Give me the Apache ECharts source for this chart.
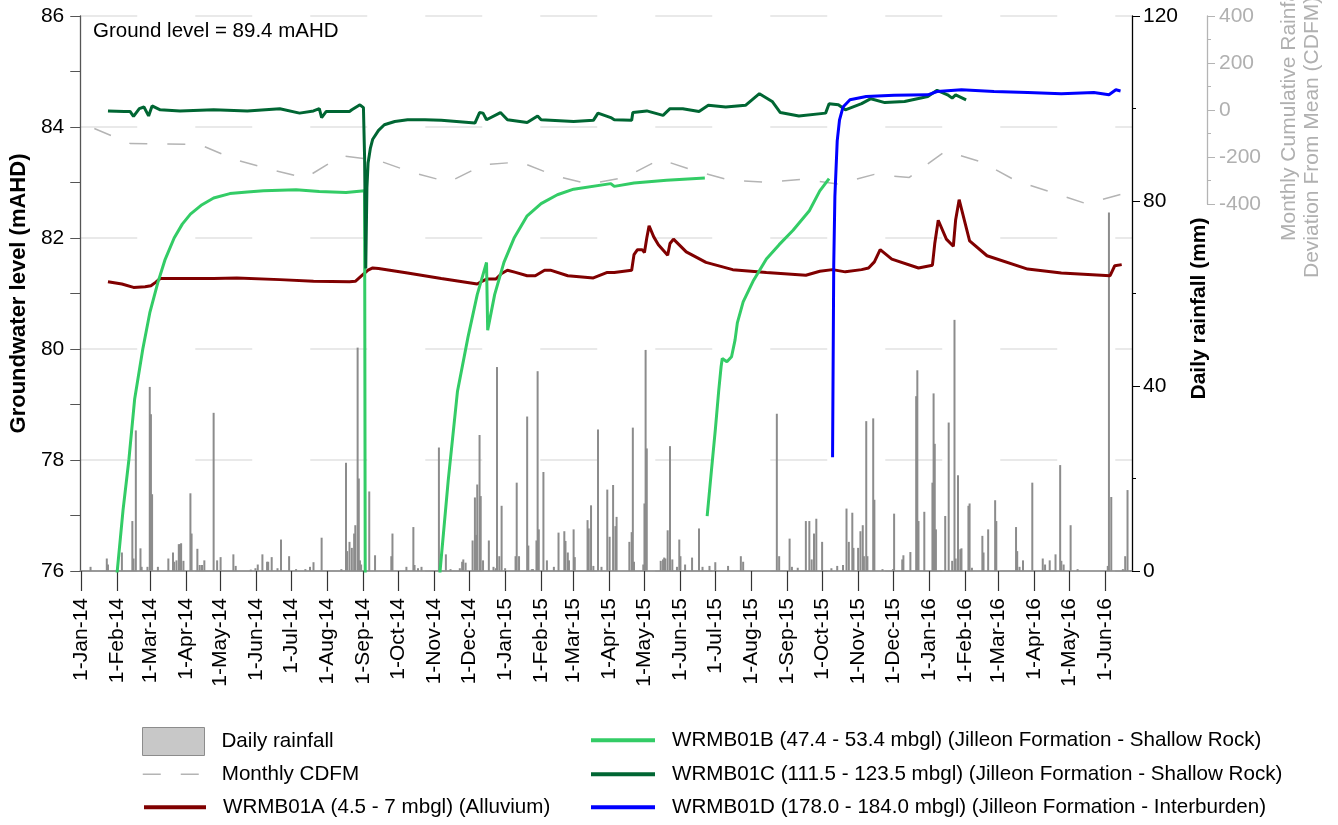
<!DOCTYPE html>
<html><head><meta charset="utf-8">
<script src="https://cdn.jsdelivr.net/npm/echarts@6/dist/echarts.min.js"></script>
<style>html,body{margin:0;padding:0;background:#fff}#c{width:1338px;height:825px}</style>
</head><body><div id="c"></div>
<script>
// ---------- DATA ----------
const dailyRainfall = [
['2014-01-09',0.9],['2014-01-23',2.7],['2014-01-24',1.4],['2014-02-05',4.0],['2014-02-14',10.8],['2014-02-15',2.7],['2014-02-17',30.4],['2014-02-21',4.9],['2014-02-22',0.9],['2014-02-27',0.9],
['2014-03-01',39.8],['2014-03-02',33.9],['2014-03-03',16.6],['2014-03-08',0.9],['2014-03-17',2.7],['2014-03-21',4.0],['2014-03-22',2.0],['2014-03-24',2.3],['2014-03-26',5.8],['2014-03-27',5.8],['2014-03-28',6.0],['2014-03-30',2.2],
['2014-04-05',16.8],['2014-04-06',8.1],['2014-04-11',4.8],['2014-04-13',1.3],['2014-04-15',1.3],['2014-04-17',2.3],['2014-04-25',34.2],['2014-04-28',2.3],['2014-05-01',3.0],['2014-05-12',3.6],['2014-05-14',1.1],['2014-05-27',0.3],['2014-05-31',0.6],
['2014-06-02',1.4],['2014-06-06',3.6],['2014-06-10',2.0],['2014-06-11',2.0],['2014-06-14',3.0],['2014-06-19',0.6],['2014-06-22',6.8],['2014-06-29',3.2],['2014-07-05',0.4],['2014-07-13',0.4],['2014-07-17',0.9],['2014-07-20',1.9],['2014-07-27',7.2],
['2014-08-13',0.4],['2014-08-17',23.4],['2014-08-18',4.3],['2014-08-20',6.3],['2014-08-22',5.0],['2014-08-24',8.1],['2014-08-25',9.9],['2014-08-27',48.3],['2014-08-28',20.0],['2014-08-29',2.3],['2014-08-30',1.4],
['2014-09-06',17.2],['2014-09-11',3.4],['2014-09-25',3.2],['2014-09-26',8.1],['2014-10-08',0.9],['2014-10-14',9.5],['2014-10-15',1.3],['2014-10-18',0.6],['2014-10-21',0.9],
['2014-11-05',26.7],['2014-11-11',3.6],['2014-11-15',0.4],['2014-11-23',0.6],['2014-11-25',2.0],['2014-11-26',2.5],['2014-11-28',1.8],
['2014-12-04',6.6],['2014-12-06',15.9],['2014-12-07',7.8],['2014-12-08',18.7],['2014-12-10',29.4],['2014-12-11',16.2],['2014-12-13',2.3],['2014-12-18',6.6],['2014-12-22',0.9],['2014-12-24',0.6],['2014-12-25',44.1],['2014-12-27',3.2],['2014-12-29',14.1],
['2015-01-01',0.6],['2015-01-10',3.2],['2015-01-11',19.1],['2015-01-13',3.2],['2015-01-20',33.4],['2015-01-21',5.5],['2015-01-24',0.4],['2015-01-25',0.4],['2015-01-28',6.6],['2015-01-29',43.2],['2015-01-30',9.0],
['2015-02-03',21.4],['2015-02-06',2.3],['2015-02-12',0.9],['2015-02-16',8.3],['2015-02-21',8.6],['2015-02-22',6.5],['2015-02-24',4.0],['2015-02-25',2.3],
['2015-03-01',9.0],['2015-03-02',3.0],['2015-03-13',11.0],['2015-03-14',9.2],['2015-03-16',14.2],['2015-03-18',1.1],['2015-03-22',30.6],['2015-03-25',0.9],['2015-03-30',17.6],
['2015-04-01',7.4],['2015-04-04',18.6],['2015-04-06',9.7],['2015-04-07',11.7],['2015-04-18',6.3],['2015-04-20',8.4],['2015-04-21',31.0],['2015-04-22',2.0],['2015-04-30',1.4],
['2015-05-01',14.6],['2015-05-02',47.8],['2015-05-03',26.5],['2015-05-15',2.2],['2015-05-17',2.5],['2015-05-18',2.9],['2015-05-19',2.7],['2015-05-21',8.8],['2015-05-23',27.0],['2015-05-25',2.5],['2015-05-29',0.9],['2015-05-31',6.8],
['2015-06-01',3.2],['2015-06-05',1.4],['2015-06-11',2.9],['2015-06-17',9.2],['2015-06-20',0.9],['2015-06-26',1.1],['2015-07-01',1.9],['2015-07-12',1.1],['2015-07-23',3.2],['2015-07-25',2.0],
['2015-08-23',34.0],['2015-08-25',3.2],['2015-09-03',7.0],['2015-09-05',0.9],['2015-09-10',0.7],['2015-09-17',10.8],['2015-09-20',10.8],['2015-09-22',2.5],['2015-09-24',8.1],['2015-09-26',11.3],
['2015-10-01',6.3],['2015-10-09',0.6],['2015-10-14',1.1],['2015-10-19',1.3],['2015-10-22',13.5],['2015-10-24',6.3],['2015-10-27',12.6],['2015-10-28',5.0],
['2015-11-01',5.0],['2015-11-03',8.6],['2015-11-05',9.9],['2015-11-06',3.2],['2015-11-08',32.4],['2015-11-09',3.2],['2015-11-14',33.0],['2015-11-15',15.4],['2015-11-22',0.4],
['2015-12-01',0.4],['2015-12-02',12.4],['2015-12-09',2.5],['2015-12-10',3.4],['2015-12-16',4.1],['2015-12-21',37.8],['2015-12-22',43.4],['2015-12-23',10.8],['2015-12-28',12.8],
['2016-01-04',19.1],['2016-01-05',38.4],['2016-01-06',27.5],['2016-01-07',9.0],['2016-01-15',11.9],['2016-01-18',32.1],['2016-01-21',2.2],['2016-01-23',54.3],['2016-01-24',2.7],['2016-01-26',20.7],['2016-01-28',4.7],['2016-01-29',4.9],
['2016-02-04',14.1],['2016-02-05',14.6],['2016-02-07',0.7],['2016-02-16',7.6],['2016-02-17',4.0],['2016-02-21',9.0],['2016-02-27',15.3],['2016-02-28',10.8],
['2016-03-16',9.5],['2016-03-17',4.3],['2016-03-19',0.9],['2016-03-22',2.3],['2016-03-30',19.1],['2016-04-08',2.7],['2016-04-10',1.4],['2016-04-14',2.3],['2016-04-19',3.6],['2016-04-23',22.9],['2016-04-24',2.2],['2016-04-26',1.4],
['2016-05-02',9.9],['2016-05-08',0.4],['2016-06-03',1.1],['2016-06-04',77.5],['2016-06-06',16.0],['2016-06-16',0.4],['2016-06-18',3.2],['2016-06-20',17.5]
];

const monthlyCDFM = [
['2014-01-15',-79],['2014-02-15',-143],['2014-03-15',-145],['2014-04-15',-146],['2014-05-15',-210],['2014-06-15',-253],['2014-07-15',-289],['2014-08-15',-195],['2014-09-15',-214],['2014-10-15',-266],['2014-11-15',-307],['2014-12-15',-233],
['2015-01-15',-221],['2015-02-15',-281],['2015-03-15',-315],['2015-04-15',-287],['2015-05-15',-210],['2015-06-15',-260],['2015-07-15',-300],['2015-08-15',-307],['2015-09-15',-295],['2015-10-15',-315],['2015-11-15',-274],['2015-12-15',-287],
['2016-01-15',-175],['2016-02-15',-221],['2016-03-15',-300],['2016-04-15',-350],['2016-05-15',-399],['2016-06-15',-357]
];

const wrmb01A = [
['2014-01-24',81.21],['2014-02-05',81.17],['2014-02-15',81.11],['2014-02-25',81.12],['2014-03-02',81.14],['2014-03-06',81.2],['2014-03-10',81.27],['2014-04-01',81.27],['2014-04-25',81.27],['2014-05-15',81.28],['2014-06-21',81.25],['2014-07-20',81.22],['2014-08-20',81.21],['2014-08-25',81.22],['2014-08-31',81.33],['2014-09-05',81.42],['2014-09-09',81.46],['2014-09-14',81.45],['2014-10-09',81.37],['2014-11-07',81.27],['2014-12-08',81.17],['2014-12-12',81.22],['2014-12-16',81.26],['2014-12-24',81.26],['2014-12-29',81.36],
['2015-01-03',81.42],['2015-01-10',81.38],['2015-01-20',81.32],['2015-01-27',81.32],['2015-02-04',81.42],['2015-02-09',81.42],['2015-02-24',81.32],['2015-03-18',81.28],['2015-03-24',81.33],['2015-03-30',81.38],['2015-04-05',81.38],['2015-04-20',81.42],['2015-04-22',81.7],['2015-04-25',81.79],['2015-04-29',81.79],['2015-05-01',81.74],['2015-05-03',82.0],['2015-05-05',82.22],['2015-05-09',82.02],['2015-05-13',81.88],['2015-05-21',81.69],['2015-05-23',81.9],['2015-05-26',81.98],['2015-06-06',81.75],['2015-06-23',81.56],['2015-07-16',81.43],['2015-08-14',81.38],['2015-09-17',81.33],['2015-09-29',81.40],['2015-10-10',81.43],['2015-10-21',81.39],['2015-11-04',81.43],['2015-11-10',81.46],['2015-11-15',81.57],['2015-11-20',81.79],['2015-11-30',81.62],['2015-12-23',81.46],
['2016-01-04',81.51],['2016-01-06',81.9],['2016-01-09',82.32],['2016-01-16',81.98],['2016-01-22',81.85],['2016-01-24',82.33],['2016-01-27',82.69],['2016-02-05',81.95],['2016-02-20',81.68],['2016-03-26',81.44],['2016-04-24',81.37],['2016-06-05',81.32],['2016-06-09',81.50],['2016-06-15',81.52]
];

const wrmb01B = [
['2014-01-31',75.7],['2014-02-01',76.0],['2014-02-06',77.1],['2014-02-11',78.0],['2014-02-16',79.1],['2014-02-23',80.0],['2014-03-01',80.65],['2014-03-08',81.2],['2014-03-14',81.6],['2014-03-22',82.0],['2014-03-29',82.25],['2014-04-05',82.43],['2014-04-15',82.6],['2014-04-25',82.72],['2014-05-09',82.8],['2014-05-24',82.83],['2014-06-07',82.85],['2014-07-05',82.87],['2014-07-25',82.84],['2014-08-17',82.82],['2014-09-02',82.85],['2014-09-03',70],['2014-09-04','-'],
['2014-11-05',75.7],['2014-11-06',76.0],['2014-11-13',77.63],['2014-11-21',79.24],['2014-11-30',80.21],['2014-12-08',80.98],['2014-12-16',81.56],['2014-12-17',80.34],['2014-12-23',80.98],['2014-12-31',81.56],['2015-01-09',82.01],['2015-01-20',82.40],['2015-02-01',82.62],['2015-02-15',82.78],['2015-03-01',82.88],['2015-04-02',82.98],['2015-04-05',82.93],['2015-04-22',82.99],['2015-05-20',83.04],['2015-06-22',83.08],['2015-06-23','-'],
['2015-06-24',76.99],['2015-06-28',77.88],['2015-07-01',78.54],['2015-07-04',79.26],['2015-07-06',79.68],['2015-07-07',79.83],['2015-07-11',79.77],['2015-07-15',79.86],['2015-07-18',80.16],['2015-07-20',80.47],['2015-07-25',80.85],['2015-08-03',81.24],['2015-08-14',81.62],['2015-08-25',81.88],['2015-09-06',82.14],['2015-09-20',82.49],['2015-09-29',82.85],['2015-10-07',83.07]
];

const wrmb01C = [
['2014-01-24',84.29],['2014-02-07',84.28],['2014-02-12',84.28],['2014-02-15',84.19],['2014-02-20',84.33],['2014-02-24',84.36],['2014-02-28',84.2],['2014-03-03',84.38],['2014-03-10',84.31],['2014-03-27',84.29],['2014-04-25',84.31],['2014-05-24',84.29],['2014-06-21',84.33],['2014-07-08',84.25],['2014-07-20',84.29],['2014-07-25',84.33],['2014-07-27',84.17],['2014-07-31',84.28],['2014-08-20',84.28],['2014-08-22',84.31],['2014-08-29',84.40],['2014-09-01',84.35],['2014-09-02',83.45],['2014-09-03',81.45],['2014-09-04',82.9],['2014-09-05',83.35],['2014-09-07',83.62],['2014-09-09',83.78],['2014-09-14',83.94],['2014-09-19',84.04],['2014-09-28',84.10],['2014-10-09',84.13],['2014-10-24',84.13],['2014-11-07',84.12],['2014-12-06',84.07],['2014-12-10',84.26],['2014-12-13',84.25],['2014-12-16',84.13],['2014-12-28',84.26],
['2015-01-03',84.13],['2015-01-20',84.08],['2015-01-29',84.20],['2015-02-01',84.13],['2015-03-01',84.10],['2015-03-18',84.12],['2015-03-22',84.25],['2015-04-02',84.17],['2015-04-05',84.13],['2015-04-20',84.12],['2015-04-21',84.26],['2015-05-03',84.29],['2015-05-17',84.21],['2015-05-23',84.33],['2015-06-03',84.33],['2015-06-17',84.28],['2015-06-25',84.39],['2015-07-10',84.36],['2015-07-27',84.39],['2015-08-08',84.60],['2015-08-19',84.46],['2015-08-26',84.26],['2015-09-11',84.20],['2015-10-04',84.25],['2015-10-07',84.42],['2015-10-15',84.40],['2015-10-21',84.31],['2015-11-04',84.42],['2015-11-12',84.51],['2015-11-24',84.44],['2015-12-11',84.46],['2015-12-31',84.55],
['2016-01-08',84.66],['2016-01-17',84.58],['2016-01-21',84.52],['2016-01-24',84.58],['2016-02-02',84.49]
];

const wrmb01D = [
['2015-10-10',78.05],['2015-10-11',81.5],['2015-10-12',82.75],['2015-10-14',83.75],['2015-10-16',84.13],['2015-10-19',84.36],['2015-10-25',84.49],['2015-11-08',84.55],['2015-12-02',84.57],['2015-12-31',84.58],['2016-01-08',84.64],['2016-01-29',84.67],['2016-02-26',84.64],['2016-03-26',84.62],['2016-04-24',84.60],['2016-05-22',84.62],['2016-06-04',84.58],['2016-06-10',84.67],['2016-06-14',84.65]
];

const seriesNames = {
  rain: 'Daily rainfall',
  cdfm: 'Monthly CDFM',
  a: 'WRMB01A (4.5 - 7 mbgl) (Alluvium)',
  b: 'WRMB01B (47.4 - 53.4 mbgl) (Jilleon Formation - Shallow Rock)',
  c: 'WRMB01C (111.5 - 123.5 mbgl) (Jilleon Formation - Shallow Rock)',
  d: 'WRMB01D (178.0 - 184.0 mbgl) (Jilleon Formation - Interburden)'
};
const monthLabels = ['Jan','Feb','Mar','Apr','May','Jun','Jul','Aug','Sep','Oct','Nov','Dec'];

// ---------- CHART ----------
const FONT = '"Liberation Sans", Arial, sans-serif';
const DAY = 86400000;
const xMin = new Date(2014, 0, 1).getTime();
const xMax = new Date(2016, 5, 23).getTime();
function dateLabel(v) {
  const d = new Date(v);
  if (d.getDate() !== 1) return '';
  return '1-' + monthLabels[d.getMonth()] + '-' + String(d.getFullYear()).slice(2);
}
const chart = echarts.init(document.getElementById('c'), null, {renderer: 'canvas'});
const lineBase = {type: 'line', symbol: 'none', showSymbol: false, connectNulls: false, clip: true, xAxisIndex: 0, yAxisIndex: 0};
function legendRow(name, left, top, width, extra) {
  const item = Object.assign({name: name}, extra || {itemStyle: {opacity: 0}, lineStyle: {width: 4}});
  return {
    orient: 'horizontal', left: left, top: top, padding: 0, itemWidth: width, itemHeight: 28, selectedMode: false,
    textStyle: {fontSize: 20.6, fontFamily: FONT, color: '#000', padding: [0, 0, 0, 12]},
    data: [item]
  };
}
chart.setOption({
  animation: false,
  backgroundColor: '#fff',
  textStyle: {fontFamily: FONT},
  grid: [
    {left: 78, right: 206, top: 16, bottom: 254},
    {left: 78, right: 206, top: 16, height: 188}
  ],
  xAxis: [
    {
      type: 'time', gridIndex: 0, min: xMin, max: xMax,
      minInterval: 28 * DAY, maxInterval: 31 * DAY, splitNumber: 30,
      axisLine: {lineStyle: {color: '#7f7f7f', width: 1.5}},
      axisTick: {show: true, length: 20, lineStyle: {color: '#333', width: 1.2}},
      axisLabel: {rotate: 90, fontSize: 21, color: '#000', margin: 27, formatter: dateLabel, hideOverlap: false},
      splitLine: {show: false}
    },
    {type: 'time', gridIndex: 1, min: xMin, max: xMax, show: false}
  ],
  yAxis: [
    {
      type: 'value', gridIndex: 0, min: 76, max: 86, interval: 2, position: 'left',
      name: 'Groundwater level (mAHD)', nameLocation: 'middle', nameGap: 47,
      nameTextStyle: {fontSize: 22, fontWeight: 'bold', color: '#000', fontFamily: FONT},
      axisLine: {show: true, lineStyle: {color: '#555', width: 1.3}},
      axisTick: {show: true, length: 10, lineStyle: {color: '#555'}},
      minorTick: {show: true, splitNumber: 2, length: 10, lineStyle: {color: '#555'}},
      axisLabel: {fontSize: 21, color: '#000', margin: 16},
      splitLine: {show: true, lineStyle: {color: '#e2e2e2', width: 1.5, type: [57, 58]}}
    },
    {
      type: 'value', gridIndex: 0, min: 0, max: 120, interval: 40, position: 'right',
      name: 'Daily rainfall (mm)', nameLocation: 'middle', nameGap: 48,
      nameTextStyle: {fontSize: 21, fontWeight: 'bold', color: '#000', fontFamily: FONT, padding: [0, 30, 0, 0]},
      axisLine: {show: true, lineStyle: {color: '#000', width: 1.3}},
      axisTick: {show: true, length: 8, lineStyle: {color: '#000'}},
      minorTick: {show: true, splitNumber: 2, length: 4, lineStyle: {color: '#000'}},
      axisLabel: {fontSize: 21, color: '#000', margin: 11},
      splitLine: {show: false}
    },
    {
      type: 'value', gridIndex: 1, min: -400, max: 400, interval: 200, position: 'right', offset: 75,
      axisLine: {show: true, lineStyle: {color: '#b4b4b4', width: 1.3}},
      axisTick: {show: true, length: 8, lineStyle: {color: '#b4b4b4'}},
      minorTick: {show: true, splitNumber: 2, length: 4, lineStyle: {color: '#b4b4b4'}},
      axisLabel: {fontSize: 21, color: '#b0b0b0', margin: 12},
      splitLine: {show: false}
    }
  ],
  legend: [
    legendRow(seriesNames.rain, 142, 727, 62, {icon: 'rect', itemStyle: {color: '#c8c8c8', borderColor: '#8c8c8c', borderWidth: 1}}),
    legendRow(seriesNames.cdfm, 142, 763, 62, {itemStyle: {opacity: 0}, lineStyle: {width: 1.5}}),
    legendRow(seriesNames.a, 142, 796, 62),
    legendRow(seriesNames.b, 589, 729, 64),
    legendRow(seriesNames.c, 589, 763, 64),
    legendRow(seriesNames.d, 589, 796, 64)
  ],
  graphic: [
    {type: 'text', left: 93, top: 21, style: {text: 'Ground level = 89.4 mAHD', font: '20.5px ' + FONT, fill: '#000'}},
    {type: 'text', x: 1289, y: 241, rotation: Math.PI / 2, style: {text: 'Monthly Cumulative Rainfall', font: '21px ' + FONT, fill: '#b0b0b0', textAlign: 'left', textVerticalAlign: 'middle'}},
    {type: 'text', x: 1312, y: 278, rotation: Math.PI / 2, style: {text: 'Deviation From Mean (CDFM)', font: '21px ' + FONT, fill: '#b0b0b0', textAlign: 'left', textVerticalAlign: 'middle'}}
  ],
  series: [
    {name: seriesNames.rain, type: 'bar', xAxisIndex: 0, yAxisIndex: 1, data: dailyRainfall, barWidth: 2, itemStyle: {color: '#8c8c8c'}, large: false},
    {name: seriesNames.cdfm, type: 'line', symbol: 'none', xAxisIndex: 1, yAxisIndex: 2, data: monthlyCDFM, lineStyle: {color: '#b4b4b4', width: 1.5, type: [18, 20]}, itemStyle: {color: '#b4b4b4'}},
    Object.assign({}, lineBase, {name: seriesNames.a, data: wrmb01A, lineStyle: {color: '#800000', width: 3}, itemStyle: {color: '#800000'}}),
    Object.assign({}, lineBase, {name: seriesNames.b, data: wrmb01B, lineStyle: {color: '#33cc66', width: 3}, itemStyle: {color: '#33cc66'}}),
    Object.assign({}, lineBase, {name: seriesNames.c, data: wrmb01C, lineStyle: {color: '#006633', width: 3}, itemStyle: {color: '#006633'}}),
    Object.assign({}, lineBase, {name: seriesNames.d, data: wrmb01D, lineStyle: {color: '#0000ff', width: 3}, itemStyle: {color: '#0000ff'}})
  ]
});
</script>
</body></html>
